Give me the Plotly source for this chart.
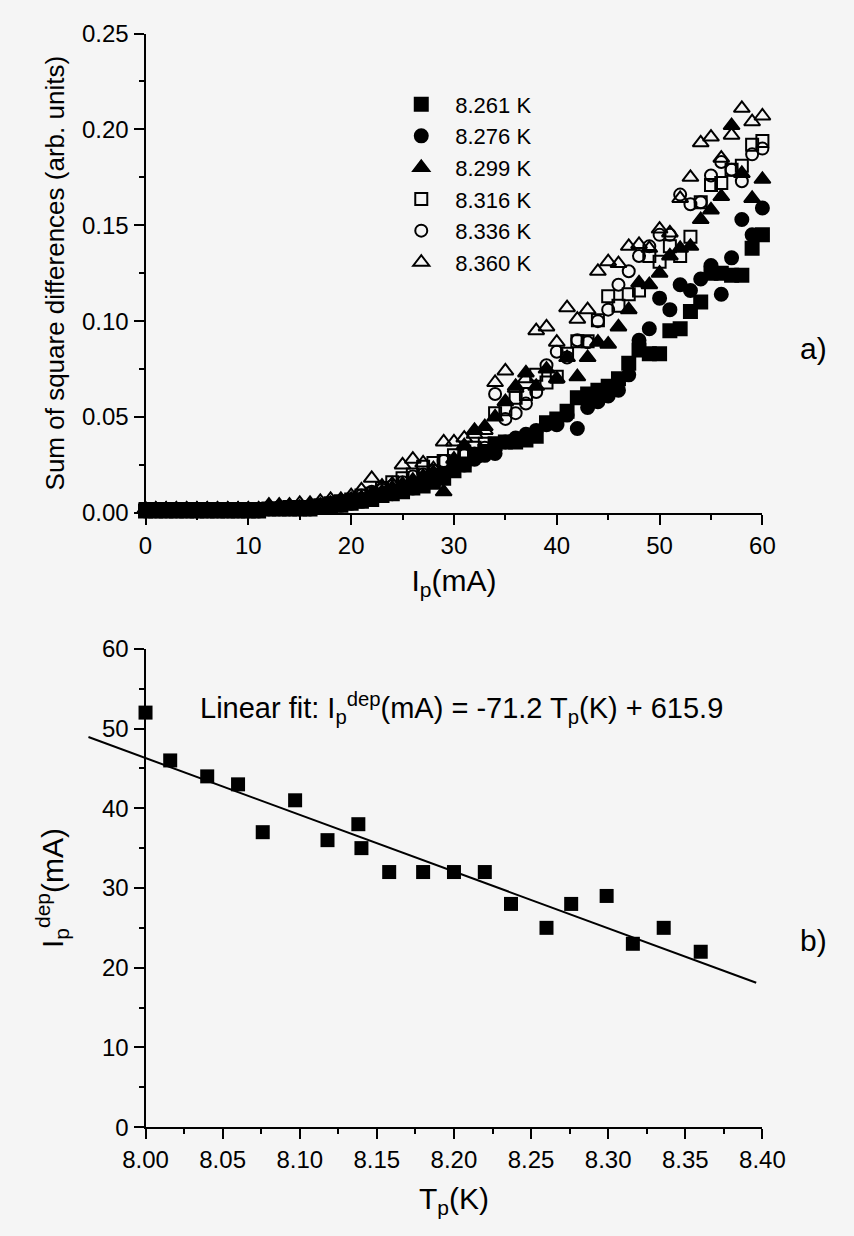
import plotly.graph_objects as go

W, H = 854, 1236
FONT = "Liberation Sans, Arial, Helvetica, sans-serif"
BG = "#f5f5f5"

# ---------------- panel a) data ----------------
Ip_mA = list(range(61))
temps = ["8.261 K", "8.276 K", "8.299 K", "8.316 K", "8.336 K", "8.360 K"]

s8261 = [0.001]*10 + [0.001, 0.001, 0.002, 0.002, 0.002, 0.002, 0.002, 0.003, 0.003, 0.004,
                      0.005, 0.006, 0.007, 0.009, 0.010, 0.011, 0.013, 0.014, 0.016, 0.018,
                      0.022, 0.025, 0.030, 0.032, 0.036, 0.037, 0.037, 0.038, 0.040, 0.047,
                      0.049, 0.053, 0.060, 0.062, 0.064, 0.066, 0.070, 0.078, 0.085, 0.083,
                      0.083, 0.095, 0.096, 0.105, 0.110, 0.125, 0.125, 0.124, 0.124, 0.138, 0.145]
s8276 = [0.001]*10 + [0.001, 0.001, 0.002, 0.002, 0.002, 0.002, 0.002, 0.003, 0.003, 0.004,
                      0.005, 0.006, 0.007, 0.009, 0.010, 0.012, 0.013, 0.015, 0.017, 0.020,
                      0.023, 0.025, 0.028, 0.030, 0.031, 0.037, 0.039, 0.041, 0.043, 0.046,
                      0.046, 0.051, 0.044, 0.055, 0.058, 0.061, 0.064, 0.072, 0.090, 0.096,
                      0.112, 0.106, 0.119, 0.116, 0.122, 0.129, 0.114, 0.133, 0.153, 0.145, 0.159]
s8299 = [0.002]*10 + [0.002, 0.002, 0.003, 0.003, 0.003, 0.003, 0.004, 0.004, 0.005, 0.006,
                      0.007, 0.008, 0.010, 0.011, 0.013, 0.015, 0.017, 0.019, 0.021, 0.011,
                      0.028, 0.035, 0.043, 0.045, 0.050, 0.058, 0.066, 0.073, 0.066, 0.075,
                      0.070, 0.081, 0.071, 0.081, 0.089, 0.088, 0.097, 0.106, 0.120, 0.119,
                      0.125, 0.134, 0.138, 0.139, 0.153, 0.158, 0.165, 0.202, 0.177, 0.164, 0.174]
s8316 = [0.002]*10 + [0.002, 0.002, 0.002, 0.002, 0.003, 0.003, 0.003, 0.004, 0.005, 0.006,
                      0.007, 0.009, 0.010, 0.013, 0.016, 0.018, 0.020, 0.024, 0.026, 0.027,
                      0.030, 0.032, 0.034, 0.036, 0.052, 0.054, 0.060, 0.062, 0.072, 0.068,
                      0.071, 0.083, 0.0895, 0.0895, 0.1005, 0.113, 0.108, 0.114, 0.116, 0.134,
                      0.131, 0.139, 0.134, 0.144, 0.162, 0.171, 0.172, 0.179, 0.181, 0.192, 0.194]
s8336 = [0.002]*10 + [0.002, 0.002, 0.002, 0.003, 0.003, 0.003, 0.003, 0.004, 0.005, 0.006,
                      0.007, 0.009, 0.011, 0.012, 0.014, 0.016, 0.019, 0.020, 0.022, 0.027,
                      0.026, 0.030, 0.031, 0.034, 0.062, 0.049, 0.052, 0.057, 0.063, 0.077,
                      0.084, 0.081, 0.090, 0.089, 0.100, 0.106, 0.119, 0.126, 0.134, 0.139,
                      0.145, 0.145, 0.166, 0.161, 0.162, 0.176, 0.183, 0.179, 0.173, 0.187, 0.190]
s8360 = [0.002]*10 + [0.002, 0.002, 0.004, 0.004, 0.004, 0.005, 0.005, 0.006, 0.007, 0.007,
                      0.009, 0.012, 0.018, 0.014, 0.015, 0.025, 0.028, 0.026, 0.023, 0.037,
                      0.037, 0.039, 0.041, 0.043, 0.068, 0.074, 0.065, 0.070, 0.095, 0.097,
                      0.089, 0.107, 0.101, 0.106, 0.126, 0.131, 0.130, 0.139, 0.140, 0.138,
                      0.148, 0.146, 0.164, 0.175, 0.193, 0.196, 0.185, 0.197, 0.211, 0.204, 0.207]

series_a = [s8261, s8276, s8299, s8316, s8336, s8360]
symbols_a = ["square", "circle", "triangle-up", "square-open", "circle-open", "triangle-up-open"]
sizes_a = [13, 13, 14, 12, 12, 14]

# ---------------- panel b) data ----------------
Tp_K = [8.000, 8.016, 8.040, 8.060, 8.076, 8.097, 8.118, 8.138, 8.140, 8.158,
        8.180, 8.200, 8.220, 8.237, 8.260, 8.276, 8.299, 8.316, 8.336, 8.360]
Ip_dep = [52, 46, 44, 43, 37, 41, 36, 38, 35, 32,
          32, 32, 32, 28, 25, 28, 29, 23, 25, 22]
fit_slope, fit_intercept = -71.2, 615.9
fit_T = [7.963, 8.396]

# ---------------- layout geometry (pixels) ----------------
x_left_px, x_right_px = 129.5, 781.5
a_top_px, a_bot_px = 20, 510
b_top_px, b_bot_px = 649, 1138
line_left_px = 60

def px_x(p): return p / W
def px_y(p): return 1 - p / H

xa_dom = [px_x(x_left_px), px_x(x_right_px)]
ya_dom = [px_y(a_bot_px), px_y(a_top_px)]
yb_dom = [px_y(b_bot_px), px_y(b_top_px)]

xb_range = [8.0, 8.4]
x3_lo = xb_range[0] - (x_left_px - line_left_px) / (x_right_px - x_left_px) * (xb_range[1] - xb_range[0])

fig = go.Figure()

for name, ys, sym, sz in zip(temps, series_a, symbols_a, sizes_a):
    fig.add_trace(go.Scatter(
        x=Ip_mA, y=ys, mode="markers", name=name, xaxis="x", yaxis="y",
        cliponaxis=False,
        marker=dict(symbol=sym, size=sz, color="black", line=dict(color="black", width=2)),
    ))

fit_I = [fit_slope * t + fit_intercept for t in fit_T]
fig.add_trace(go.Scatter(
    x=fit_T, y=fit_I, mode="lines", xaxis="x3", yaxis="y3", showlegend=False,
    line=dict(color="black", width=2),
))
fig.add_trace(go.Scatter(
    x=Tp_K, y=Ip_dep, mode="markers", xaxis="x2", yaxis="y2", showlegend=False,
    cliponaxis=False,
    marker=dict(symbol="square", size=14, color="black"),
))

axis_common = dict(
    showline=True, linecolor="black", linewidth=2, mirror=False,
    ticks="outside", ticklen=10, tickwidth=2, tickcolor="black",
    showgrid=False, zeroline=False,
    tickfont=dict(family=FONT, size=24, color="black"),
)
minor_common = dict(ticks="outside", ticklen=5, tickwidth=2, tickcolor="black")

fig.update_layout(
    width=W, height=H,
    paper_bgcolor=BG, plot_bgcolor="rgba(0,0,0,0)",
    margin=dict(l=0, r=0, t=0, b=0),
    font=dict(family=FONT, color="black"),
    xaxis=dict(domain=xa_dom, anchor="y", range=[0, 60], tick0=0, dtick=10,
               minor=dict(dtick=5, **minor_common),
               title=dict(text="I<sub>p</sub>(mA)", font=dict(size=30), standoff=12),
               **axis_common),
    yaxis=dict(domain=ya_dom, anchor="x", range=[0, 0.25], tick0=0, dtick=0.05, tickformat=".2f",
               minor=dict(dtick=0.025, **minor_common),
               title=dict(text="Sum of square differences (arb. units)", font=dict(size=26), standoff=10),
               **axis_common),
    xaxis2=dict(domain=xa_dom, anchor="y2", range=xb_range, tick0=8.0, dtick=0.05, tickformat=".2f",
                minor=dict(dtick=0.025, **minor_common),
                title=dict(text="T<sub>p</sub>(K)", font=dict(size=30), standoff=16),
                **axis_common),
    yaxis2=dict(domain=yb_dom, anchor="x2", range=[0, 60], tick0=0, dtick=10,
                minor=dict(dtick=5, **minor_common),
                title=dict(text="I<sub>p</sub><sup>dep</sup>(mA)", font=dict(size=30), standoff=30),
                **axis_common),
    xaxis3=dict(domain=[px_x(line_left_px), px_x(x_right_px)], anchor="y3",
                range=[x3_lo, xb_range[1]], visible=False, showgrid=False, zeroline=False),
    yaxis3=dict(domain=yb_dom, anchor="x3", range=[0, 60], visible=False,
                showgrid=False, zeroline=False),
    legend=dict(x=px_x(385), y=px_y(71), xanchor="left", yanchor="top",
                font=dict(family=FONT, size=22, color="black"),
                bgcolor="rgba(0,0,0,0)", borderwidth=0, itemwidth=58,
                tracegroupgap=0),
    annotations=[
        dict(text="a)", xref="paper", yref="paper", x=px_x(836), y=px_y(342),
             xanchor="center", yanchor="middle",
             showarrow=False, font=dict(size=30, family=FONT, color="black")),
        dict(text="b)", xref="paper", yref="paper", x=px_x(836), y=px_y(947),
             xanchor="center", yanchor="middle",
             showarrow=False, font=dict(size=30, family=FONT, color="black")),
        dict(text="Linear fit: I<sub>p</sub><sup>dep</sup>(mA) = -71.2 T<sub>p</sub>(K) + 615.9",
             xref="x2", yref="y2", x=8.034, y=52.6, xanchor="left", yanchor="middle",
             showarrow=False, font=dict(size=29, family=FONT, color="black")),
    ],
)

fig.write_html(
    "out.html",
    config={"displayModeBar": False},
    post_script="document.body.style.margin='0';document.body.style.background='%s';" % BG,
)
